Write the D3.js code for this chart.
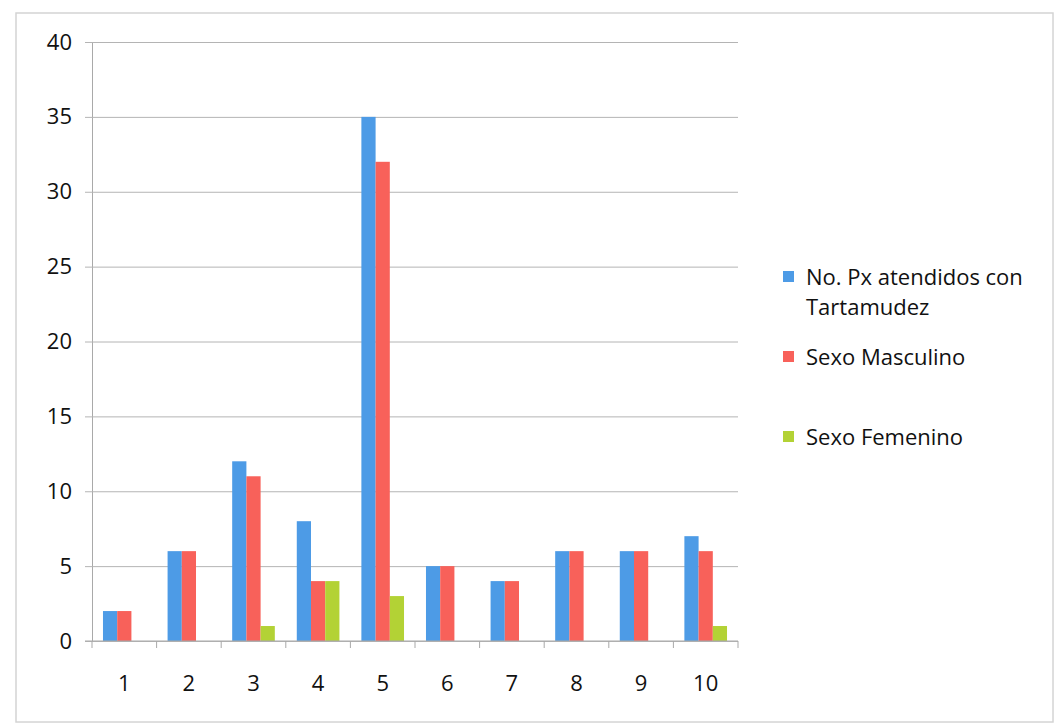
<!DOCTYPE html>
<html>
<head>
<meta charset="utf-8">
<script src="https://cdn.jsdelivr.net/npm/d3@7"></script>
<style>
  html, body { margin: 0; padding: 0; background: #ffffff; }
  svg { display: block; }
  text { font-family: "Open Sans", Lato, sans-serif; fill: #111; }
</style>
</head>
<body>
<svg id="chart" width="1055" height="725"></svg>
<script>
// Categories and series
const categories = ["1", "2", "3", "4", "5", "6", "7", "8", "9", "10"];
const seriesNames = ["No. Px atendidos con Tartamudez", "Sexo Masculino", "Sexo Femenino"];
const pacientes = [2, 6, 12, 8, 35, 5, 4, 6, 6, 7];
const masculino = [2, 6, 11, 4, 32, 5, 4, 6, 6, 6];
const femenino  = [0, 0, 1, 4, 3, 0, 0, 0, 0, 1];
const yTicks = [0, 5, 10, 15, 20, 25, 30, 35, 40];
const colors = ["#4d9be6", "#f8615a", "#b3d235"];

const seriesValues = [pacientes, masculino, femenino];

const svg = d3.select("#chart");

// outer frame of the chart object
svg.append("rect")
  .attr("x", 16).attr("y", 13)
  .attr("width", 1037).attr("height", 709)
  .attr("fill", "#ffffff")
  .attr("stroke", "#d4d4d4").attr("stroke-width", 1.5);

const plot = { left: 92, right: 738, top: 42, bottom: 641 };

const x = d3.scaleBand()
  .domain(categories)
  .range([plot.left, plot.right])
  .paddingInner(0.34)
  .paddingOuter(0.17);

const xs = d3.scaleBand()
  .domain(d3.range(seriesNames.length))
  .range([0, x.bandwidth()]);

const y = d3.scaleLinear().domain([0, 40]).range([plot.bottom, plot.top]);

// y axis with gridlines
const yAxis = svg.append("g")
  .attr("transform", `translate(${plot.left},0)`)
  .call(d3.axisLeft(y).tickValues(yTicks)
    .tickSize(-(plot.right - plot.left)).tickSizeOuter(0).tickPadding(20));
yAxis.select(".domain").attr("stroke", "#a9a9a9");
yAxis.selectAll(".tick line").attr("stroke", "#b4b4b4").attr("x1", -7);
yAxis.selectAll(".tick text")
  .style("font-size", "22px").attr("fill", "#111").attr("x", -20);

// bars
const groups = svg.append("g").selectAll("g")
  .data(seriesValues)
  .join("g")
  .attr("fill", (d, i) => colors[i]);

groups.each(function(vals, si) {
  d3.select(this).selectAll("rect")
    .data(vals.map((v, ci) => ({ v, c: categories[ci] })))
    .join("rect")
    .attr("x", d => x(d.c) + xs(si))
    .attr("y", d => y(d.v))
    .attr("width", xs.bandwidth())
    .attr("height", d => y(0) - y(d.v));
});

// x axis with ticks at category boundaries
const xAxisG = svg.append("g").attr("transform", `translate(0,${plot.bottom})`);
xAxisG.append("line")
  .attr("x1", plot.left - 7).attr("x2", plot.right)
  .attr("stroke", "#a9a9a9");
const bounds = d3.range(categories.length + 1).map(i => plot.left + i * (plot.right - plot.left) / categories.length);
xAxisG.selectAll("line.tk")
  .data(bounds)
  .join("line")
  .attr("class", "tk")
  .attr("x1", d => d).attr("x2", d => d)
  .attr("y1", 0).attr("y2", 7)
  .attr("stroke", "#a9a9a9");
xAxisG.selectAll("text")
  .data(categories)
  .join("text")
  .attr("x", d => x(d) + x.bandwidth() / 2)
  .attr("y", 50)
  .attr("text-anchor", "middle")
  .style("font-size", "22px")
  .text(d => d);

// legend
const legend = svg.append("g");
const legendItems = [
  { lines: ["No. Px atendidos con", "Tartamudez"], y: 277 },
  { lines: ["Sexo Masculino"], y: 357 },
  { lines: ["Sexo Femenino"], y: 437 }
];
legendItems.forEach((it, i) => {
  legend.append("rect")
    .attr("x", 783).attr("y", it.y - 6)
    .attr("width", 11).attr("height", 11)
    .attr("fill", colors[i]);
  it.lines.forEach((ln, j) => {
    legend.append("text")
      .attr("x", 806).attr("y", it.y + j * 30)
      .attr("dy", "0.36em")
      .style("font-size", "22px")
      .text(ln);
  });
});
</script>
</body>
</html>
